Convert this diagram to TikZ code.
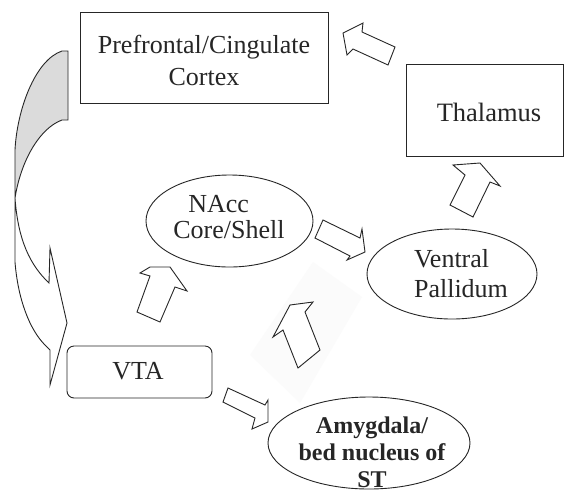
\documentclass[tikz,border=0pt]{standalone}
\usepackage{fontspec}
\setmainfont{Liberation Serif}
\usetikzlibrary{shapes.geometric}
\begin{document}
\begin{tikzpicture}[x=1pt,y=-1pt,
  outl/.style={draw=black!85, line width=0.9pt},
  txt/.style={font=\fontsize{26}{32}\selectfont, text=black!85, inner sep=0pt},
  barr/.style={draw=black!85, line width=0.9pt, fill=white, line join=miter},
]
\useasboundingbox (0,0) rectangle (565,491);
\fill[white] (0,0) rectangle (565,491);

% faint background patch
\fill[black!1.5] (313,262) -- (362,297) -- (300,403) -- (250,355) -- cycle;

% boxes
\node[outl, minimum width=248pt, minimum height=91pt, inner sep=0pt] (pfc) at (204,57.5) {};
\node[txt, align=center] (pfct) at (204,60) {Prefrontal/Cingulate\\Cortex};

\node[outl, minimum width=157pt, minimum height=92pt, inner sep=0pt] (thal) at (484.5,110) {};
\node[txt, font=\fontsize{26.5}{32}\selectfont] (thalt) at (489,112) {Thalamus};

\node[outl, rounded corners=7pt, minimum width=145pt, minimum height=52pt, inner sep=0pt] (vta) at (139.5,372) {};
\node[txt] (vtat) at (138,371) {VTA};

% ellipses
\node[outl, ellipse, minimum width=167pt, minimum height=92pt, inner sep=0pt] (nacc) at (229.5,221) {};
\node[txt, align=left, font=\fontsize{26}{26}\selectfont] (nacct) at (229,217) {\hspace*{15pt}NAcc\\Core/Shell};

\node[outl, ellipse, minimum width=170pt, minimum height=90pt, inner sep=0pt] (vp) at (452,274) {};
\node[txt, align=left, font=\fontsize{26}{30}\selectfont] (vpt) at (461,274) {Ventral\\Pallidum};

\node[outl, ellipse, minimum width=202pt, minimum height=92pt, inner sep=0pt] (amy) at (369,443) {};
\node[txt, align=center, font=\fontsize{24}{27}\selectfont\bfseries] (amyt) at (372,452) {Amygdala/\\bed nucleus of\\ST};

% block arrows
% Thalamus -> PFC
\draw[barr] (395,47) -- (388,65) -- (353,49) -- (347,55) -- (343,33) -- (363,23) -- (362,32) -- cycle;
% VP -> Thalamus
\draw[barr] (450,205) -- (465,175) -- (453,165) -- (480,163) -- (500,186) -- (490,182) -- (473,217) -- cycle;
% NAcc -> VP
\draw[barr] (323,220) -- (360,238) -- (362,229) -- (365,252) -- (347,260) -- (350,256) -- (315,238) -- cycle;
% VTA -> NAcc
\draw[barr] (137,312) -- (160,322) -- (175,287) -- (187,291) -- (170,267) -- (150,267) -- (140,273) -- (150,276) -- cycle;
% VTA -> Amygdala
\draw[barr] (228,388) -- (265,405) -- (268,400) -- (268,422) -- (252,429) -- (255,418) -- (223,402) -- cycle;
% Amygdala -> VP
\draw[barr] (298,368) -- (320,350) -- (305,312) -- (313,302) -- (290,305) -- (273,337) -- (283,330) -- cycle;

% curved ribbon arrow from PFC to VTA
\draw[outl, fill=black!14] (68,51) -- (62,51) .. controls (35,60) and (17,110) .. (15,150)
   -- (15,198) .. controls (21,160) and (40,128) .. (62,120) -- (68,120) -- cycle;
\draw[outl, fill=white] (15,198) -- (15,262) .. controls (18,300) and (30,330) .. (45,345)
   -- (50,350) -- (50,385) -- (67,323) -- (50,248) -- (49,283)
   .. controls (30,265) and (18,240) .. (15,198) -- cycle;
\end{tikzpicture}
\end{document}
